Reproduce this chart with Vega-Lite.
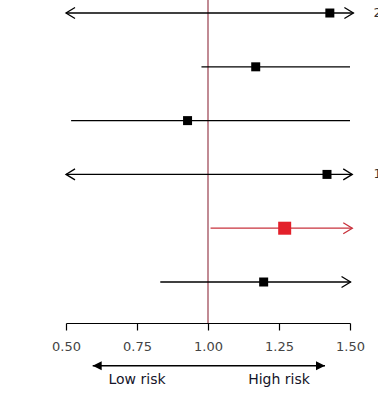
{
  "$schema": "https://vega.github.io/schema/vega-lite/v6.json",
  "autosize": {"type": "none"},
  "padding": {"left": 66, "top": 0, "right": 28, "bottom": 78},
  "width": 284,
  "height": 323,
  "background": "white",
  "config": {"view": {"stroke": null}, "font": "DejaVu Sans"},
  "datasets": {
    "studies": [
      {"row": 1, "est": 1.429, "lo": 0.5, "hi": 1.512, "grp": "other"},
      {"row": 2, "est": 1.168, "lo": 0.977, "hi": 1.5, "grp": "other"},
      {"row": 3, "est": 0.928, "lo": 0.518, "hi": 1.5, "grp": "other"},
      {"row": 4, "est": 1.419, "lo": 0.5, "hi": 1.508, "grp": "other"},
      {"row": 5, "est": 1.27, "lo": 1.009, "hi": 1.508, "grp": "highlight"},
      {"row": 6, "est": 1.196, "lo": 0.832, "hi": 1.502, "grp": "other"}
    ],
    "arrows": [
      {"row": 1, "x": 0.5, "dir": "left", "grp": "other"},
      {"row": 1, "x": 1.512, "dir": "right", "grp": "other"},
      {"row": 4, "x": 0.5, "dir": "left", "grp": "other"},
      {"row": 4, "x": 1.508, "dir": "right", "grp": "other"},
      {"row": 5, "x": 1.508, "dir": "right", "grp": "highlight"},
      {"row": 6, "x": 1.502, "dir": "right", "grp": "other"}
    ],
    "ref": [{"x": 1}],
    "riskArrow": [{"lo": 0.594, "hi": 1.412, "r": 7.556}],
    "riskHeads": [
      {"x": 0.594, "dir": "left", "r": 7.556},
      {"x": 1.412, "dir": "right", "r": 7.556}
    ],
    "riskText": [
      {"x": 0.75, "label": "Low risk", "r": 7.821},
      {"x": 1.25, "label": "High risk", "r": 7.821}
    ],
    "edge": [
      {"row": 1, "x": 1.583, "label": "2"},
      {"row": 4, "x": 1.583, "label": "1"}
    ]
  },
  "layer": [
    {
      "data": {"name": "ref"},
      "mark": {"type": "rule", "color": "#8E2B3C", "strokeWidth": 1.1},
      "encoding": {
        "x": {
          "field": "x", "type": "quantitative",
          "scale": {"domain": [0.5, 1.5], "nice": false, "zero": false},
          "axis": {
            "values": [0.5, 0.75, 1.0, 1.25, 1.5],
            "format": ".2f",
            "title": null,
            "grid": false,
            "domainColor": "#000000",
            "domainWidth": 1.2,
            "tickColor": "#000000",
            "tickWidth": 1.2,
            "tickSize": 7,
            "labelFont": "DejaVu Sans",
            "labelFontSize": 13,
            "labelColor": "#444444",
            "labelPadding": 10,
            "labelFlush": false
          }
        }
      }
    },
    {
      "data": {"name": "studies"},
      "mark": {"type": "rule", "strokeWidth": 1.3},
      "encoding": {
        "x": {"field": "lo", "type": "quantitative"},
        "x2": {"field": "hi"},
        "y": {"field": "row", "type": "quantitative", "scale": {"domain": [0.758, 6.762], "reverse": true, "nice": false, "zero": false}, "axis": null},
        "color": {"field": "grp", "type": "nominal", "scale": {"domain": ["other", "highlight"], "range": ["#000000", "#C8323C"]}, "legend": null}
      }
    },
    {
      "data": {"name": "arrows"},
      "mark": {"type": "point", "filled": false, "strokeWidth": 1.3, "size": 121, "opacity": 1},
      "encoding": {
        "x": {"field": "x", "type": "quantitative"},
        "y": {"field": "row", "type": "quantitative"},
        "shape": {"field": "dir", "type": "nominal", "scale": {"domain": ["left", "right"], "range": ["M1.64,-1L0,0L1.64,1", "M-1.64,-1L0,0L-1.64,1"]}, "legend": null},
        "color": {"field": "grp", "type": "nominal", "scale": {"domain": ["other", "highlight"], "range": ["#000000", "#C8323C"]}, "legend": null}
      }
    },
    {
      "data": {"name": "studies"},
      "mark": {"type": "square", "opacity": 1},
      "encoding": {
        "x": {"field": "est", "type": "quantitative"},
        "y": {"field": "row", "type": "quantitative"},
        "size": {"field": "grp", "type": "nominal", "scale": {"domain": ["other", "highlight"], "range": [81, 169]}, "legend": null},
        "color": {"field": "grp", "type": "nominal", "scale": {"domain": ["other", "highlight"], "range": ["#000000", "#E3202A"]}, "legend": null}
      }
    },
    {
      "data": {"name": "edge"},
      "mark": {"type": "text", "align": "left", "baseline": "middle", "fontSize": 13, "color": "#333333", "font": "DejaVu Sans"},
      "encoding": {
        "x": {"field": "x", "type": "quantitative"},
        "y": {"field": "row", "type": "quantitative"},
        "text": {"field": "label"}
      }
    },
    {
      "data": {"name": "riskArrow"},
      "mark": {"type": "rule", "color": "#000000", "strokeWidth": 1.5},
      "encoding": {
        "x": {"field": "lo", "type": "quantitative"},
        "x2": {"field": "hi"},
        "y": {"field": "r", "type": "quantitative"}
      }
    },
    {
      "data": {"name": "riskHeads"},
      "mark": {"type": "point", "filled": true, "size": 81, "opacity": 1, "color": "#000000"},
      "encoding": {
        "x": {"field": "x", "type": "quantitative"},
        "y": {"field": "r", "type": "quantitative"},
        "shape": {"field": "dir", "type": "nominal", "scale": {"domain": ["left", "right"], "range": ["M0,0L2,-1L2,1Z", "M0,0L-2,-1L-2,1Z"]}, "legend": null}
      }
    },
    {
      "data": {"name": "riskText"},
      "mark": {"type": "text", "align": "center", "baseline": "middle", "fontSize": 14, "color": "#15152A", "font": "DejaVu Sans"},
      "encoding": {
        "x": {"field": "x", "type": "quantitative"},
        "y": {"field": "r", "type": "quantitative"},
        "text": {"field": "label"}
      }
    }
  ],
  "resolve": {"scale": {"color": "independent", "shape": "independent", "size": "independent"}}
}
